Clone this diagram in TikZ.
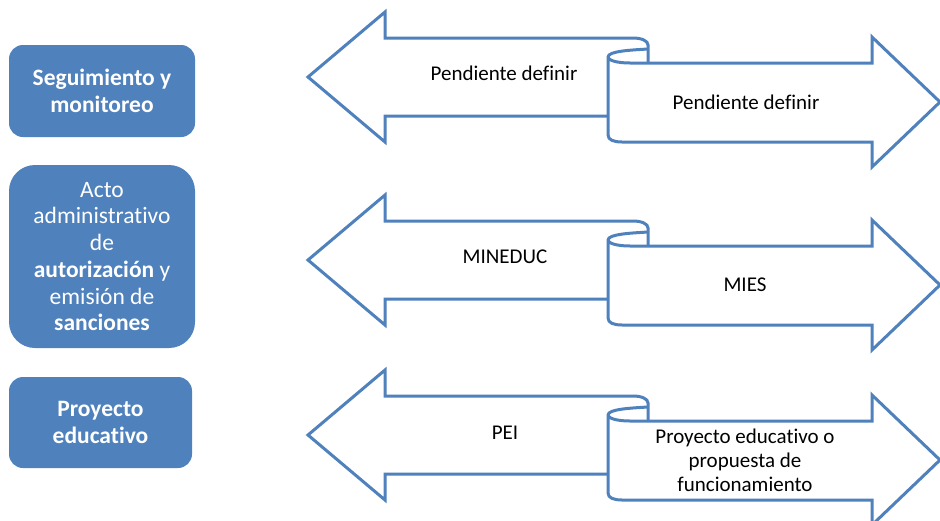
\documentclass[tikz,border=0pt]{standalone}
\usepackage{fontspec}
\setmainfont{Carlito}[Ligatures=NoCommon]
\definecolor{officeblue}{HTML}{4F81BD}
\tikzset{
  sidebox/.style={draw=none, fill=officeblue, text=white, align=center, inner sep=0pt,
    font=\fontsize{23.5}{26.7}\selectfont},
  ribbonline/.style={draw=officeblue, line width=3pt, line join=miter},
  ribbontext/.style={inner sep=0pt, align=center, text=black, font=\fontsize{21}{24}\selectfont}
}
\newcommand\myribbon[1]{%
  \begin{scope}[shift={(0,#1)}]
    \draw[ribbonline] (608,116) -- (385,116) -- (385,142) -- (308,77) -- (385,12) -- (385,38)
      -- (633,38) .. controls (642,38) and (648,41) .. (648,45) -- (648,63);
    \draw[ribbonline] (648,49) .. controls (632,50) and (608,51) .. (608,57) -- (608,135)
      .. controls (608,140) and (614,142) .. (622,142) -- (872,142) -- (872,167) -- (940,102)
      -- (872,37) -- (872,63) -- (630,63) .. controls (616,63) and (608,60) .. (608,57);
  \end{scope}}
\begin{document}
\begin{tikzpicture}[x=1pt,y=-1pt]
\useasboundingbox (0,0) rectangle (940,520);
\clip (0,0) rectangle (940,520);
\fill[white] (0,0) rectangle (940,520);

% left boxes
\node[sidebox, rounded corners=14pt, minimum width=186pt, minimum height=92pt] (b1) at (102,91)
  {\textbf{Seguimiento y}\\\textbf{monitoreo}};
\node[sidebox, rounded corners=26pt, minimum width=186pt, minimum height=183pt] (b2) at (102,256.5)
  {Acto\\administrativo\\de\\\textbf{autorización} y\\emisión de\\\textbf{sanciones}};
\node[sidebox, rounded corners=14pt, minimum width=183pt, minimum height=91pt] (b3) at (100.5,422.5)
  {\textbf{Proyecto}\\\textbf{educativo}};

% ribbons
\myribbon{0}
\myribbon{183}
\myribbon{358}

% ribbon texts
\node[ribbontext] (l1) at (504,73) {Pendiente definir};
\node[ribbontext] (r1) at (746,102) {Pendiente definir};
\node[ribbontext] (l2) at (505,257) {MINEDUC};
\node[ribbontext] (r2) at (745,285) {MIES};
\node[ribbontext] (l3) at (505,433) {PEI};
\node[ribbontext] (r3) at (745,460) {Proyecto educativo o\\propuesta de\\funcionamiento};
\end{tikzpicture}
\end{document}
